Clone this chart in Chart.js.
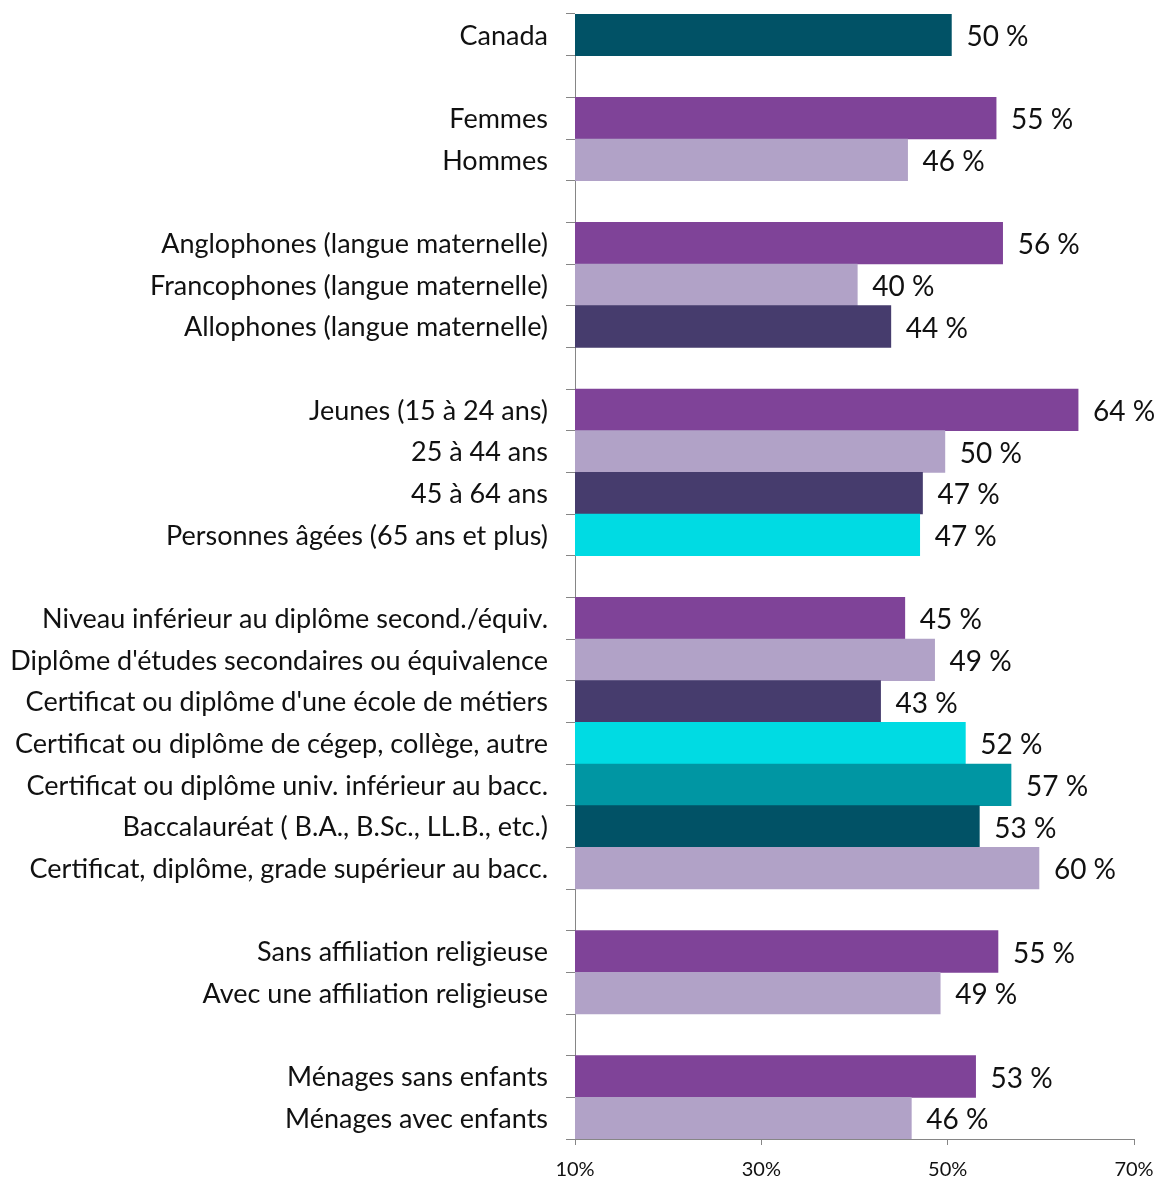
<!DOCTYPE html>
<html>
<head>
<meta charset="utf-8">
<script src="https://cdn.jsdelivr.net/npm/chart.js@4"></script>
<style>
html,body{margin:0;padding:0;background:#fff;}
#wrap{width:1157px;height:1180px;position:relative;}
</style>
</head>
<body>
<div id="wrap"><canvas id="c" width="1157" height="1180"></canvas></div>
<script>
const categories = [
  "Canada", "",
  "Femmes", "Hommes", "",
  "Anglophones (langue maternelle)", "Francophones (langue maternelle)", "Allophones (langue maternelle)", "",
  "Jeunes (15 à 24 ans)", "25 à 44 ans", "45 à 64 ans", "Personnes âgées (65 ans et plus)", "",
  "Niveau inférieur au diplôme second./équiv.", "Diplôme d'études secondaires ou équivalence",
  "Certificat ou diplôme d'une école de métiers", "Certificat ou diplôme de cégep, collège, autre",
  "Certificat ou diplôme univ. inférieur au bacc.", "Baccalauréat ( B.A., B.Sc., LL.B., etc.)",
  "Certificat, diplôme, grade supérieur au bacc.", "",
  "Sans affiliation religieuse", "Avec une affiliation religieuse", "",
  "Ménages sans enfants", "Ménages avec enfants"
];
const values = [
  50.4, null,
  55.2, 45.7, null,
  55.9, 40.3, 43.9, null,
  64.0, 49.7, 47.3, 47.0, null,
  45.4, 48.6, 42.8, 51.9, 56.8, 53.4, 59.8, null,
  55.4, 49.2, null,
  53.0, 46.1
];
const xTicks = [10, 30, 50, 70];

const C_CAN = "#015266", C_PUR = "#7F4398", C_LIL = "#B1A2C7", C_DPU = "#463C6D", C_CYA = "#00DBE3", C_TEA = "#0096A3";
const barColors = [
  C_CAN, null,
  C_PUR, C_LIL, null,
  C_PUR, C_LIL, C_DPU, null,
  C_PUR, C_LIL, C_DPU, C_CYA, null,
  C_PUR, C_LIL, C_DPU, C_CYA, C_TEA, C_CAN, C_LIL, null,
  C_PUR, C_LIL, null,
  C_PUR, C_LIL
];

const FONT = "Lato, 'Noto Sans', sans-serif";

const valueLabels = {
  id: 'valueLabels',
  afterDatasetsDraw(chart) {
    const ctx = chart.ctx;
    const meta = chart.getDatasetMeta(0);
    ctx.save();
    ctx.font = "28px " + FONT;
    ctx.fillStyle = "#111111";
    ctx.textAlign = "left";
    ctx.textBaseline = "middle";
    meta.data.forEach((el, i) => {
      const v = values[i];
      if (v === null) return;
      ctx.fillText(Math.round(v) + " %", el.x + 15, el.y + 2);
    });
    ctx.restore();
  }
};

new Chart(document.getElementById('c'), {
  type: 'bar',
  data: {
    labels: categories,
    datasets: [{
      data: values,
      backgroundColor: barColors,
      borderWidth: 0,
      barPercentage: 1,
      categoryPercentage: 1
    }]
  },
  options: {
    indexAxis: 'y',
    responsive: false,
    animation: false,
    layout: { padding: { top: 14, right: 23, left: 0, bottom: 0 } },
    plugins: { legend: { display: false }, tooltip: { enabled: false } },
    scales: {
      x: {
        min: 10, max: 70,
        afterBuildTicks(scale) { scale.ticks = xTicks.map(v => ({ value: v })); },
        afterFit(scale) { scale.height = 41; scale.paddingLeft = 0; scale.paddingRight = 0; },
        border: { display: true, color: "#868686", width: 1 },
        grid: { display: true, drawOnChartArea: false, drawTicks: true, tickLength: 6, color: "#868686" },
        ticks: {
          padding: 13,
          color: "#111111",
          font: { family: FONT, size: 20 },
          callback: (v) => v + "%",
          maxRotation: 0
        }
      },
      y: {
        afterFit(scale) { scale.width = 575; scale.paddingTop = 0; scale.paddingBottom = 0; },
        border: { display: true, color: "#868686", width: 1 },
        grid: { display: true, offset: true, drawOnChartArea: false, drawTicks: true, tickLength: 9, color: "#868686" },
        ticks: {
          padding: 18,
          labelOffset: 1,
          color: "#111111",
          autoSkip: false,
          font: { family: FONT, size: 27 }
        }
      }
    }
  },
  plugins: [valueLabels]
});
</script>
</body>
</html>
